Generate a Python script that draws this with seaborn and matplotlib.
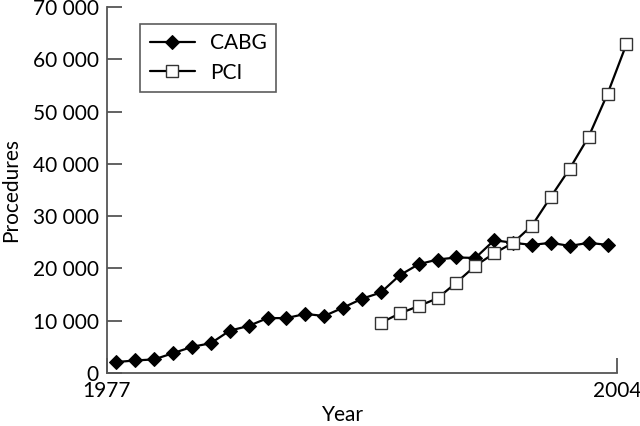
import numpy as np
import matplotlib
matplotlib.use("Agg")
import matplotlib.pyplot as plt
import seaborn as sns
from matplotlib.ticker import FuncFormatter

# procedures per year
cabg_years = [1977, 1978, 1979, 1980, 1981, 1982, 1983, 1984, 1985, 1986,
              1987, 1988, 1989, 1990, 1991, 1992, 1993, 1994, 1995, 1996,
              1997, 1998, 1999, 2000, 2001, 2002, 2003]
cabg = [2100, 2400, 2600, 3800, 5000, 5700, 8100, 9000, 10500, 10500,
        11300, 10900, 12500, 14200, 15400, 18700, 20800, 21700, 22100, 22000,
        25400, 24900, 24500, 24900, 24300, 24900, 24500]

pci_years = [1991, 1992, 1993, 1994, 1995, 1996, 1997, 1998, 1999, 2000,
             2001, 2002, 2003, 2004]
pci = [9600, 11400, 12800, 14300, 17300, 20500, 22900, 24900, 28200, 33700,
       39100, 45200, 53400, 62900]

y_ticks = [0, 10000, 20000, 30000, 40000, 50000, 60000, 70000]
x_ticks = [1977, 2004]

sns.set_style("ticks")
plt.rcParams['font.family'] = ['Lato', 'DejaVu Sans']
plt.rcParams['text.color'] = 'black'
plt.rcParams['axes.labelcolor'] = 'black'
plt.rcParams['xtick.labelcolor'] = 'black'
plt.rcParams['ytick.labelcolor'] = 'black'

fig = plt.figure(figsize=(6.4, 4.26), dpi=100)
ax = fig.add_axes([107/640, 1 - 373/426, 510/640, 366/426])

# points sit in the middle of each year
sns.lineplot(x=np.array(cabg_years) + 0.5, y=cabg, ax=ax, color="black",
             linewidth=1.6, marker="D", markersize=7.5, markerfacecolor="black",
             markeredgecolor="black", label="CABG", clip_on=False)
sns.lineplot(x=np.array(pci_years) + 0.5, y=pci, ax=ax, color="black",
             linewidth=1.6, marker="s", markersize=8, markerfacecolor="white",
             markeredgecolor="#333333", markeredgewidth=1.0, label="PCI",
             clip_on=False)

ax.set_xlim(1977, 2004)
ax.set_ylim(0, 70000)
ax.set_xticks(x_ticks)
ax.set_yticks(y_ticks)
ax.yaxis.set_major_formatter(FuncFormatter(lambda v, p: f"{int(v):,}".replace(",", " ")))

for s in ["top", "right"]:
    ax.spines[s].set_visible(False)
for s in ["left", "bottom"]:
    ax.spines[s].set_color("#555555")
    ax.spines[s].set_linewidth(1.3)
ax.tick_params(direction="in", length=10.5, width=1.3, color="#555555",
               labelsize=15, pad=6)

ax.set_xlabel("Year", fontsize=15)
ax.set_ylabel("Procedures", fontsize=15, labelpad=8)
ax.xaxis.set_label_coords(0.463, -0.088)

leg = ax.legend(loc="upper left", bbox_to_anchor=(0.065, 0.954), borderaxespad=0,
                fontsize=15, fancybox=False, frameon=True, handlelength=2.2,
                borderpad=0.45, labelspacing=0.45, handletextpad=0.7)
leg.get_frame().set_edgecolor("#333333")
leg.get_frame().set_linewidth(1.2)

fig.savefig("out.png", dpi=100)
